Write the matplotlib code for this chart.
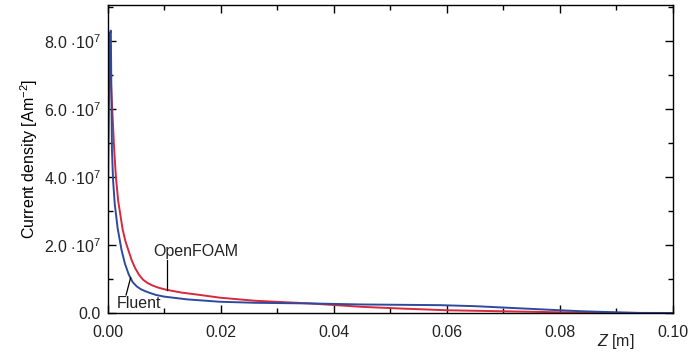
import numpy as np
import matplotlib.pyplot as plt
from matplotlib.ticker import MultipleLocator

# Fluent (blue), values in 1e7 A/m^2
z_fluent = [0, 0.0003, 0.0005, 0.0007, 0.0009, 0.0012, 0.0017, 0.0024, 0.0030, 0.0037,
            0.0044, 0.0051, 0.0058, 0.0066, 0.0074, 0.0085, 0.010, 0.012, 0.014, 0.0165,
            0.0198, 0.026, 0.0358, 0.045, 0.0588, 0.065, 0.070, 0.075, 0.080, 0.084,
            0.088, 0.094, 0.100]
j_fluent = [3.5, 8.2, 8.3, 4.8, 3.9, 3.2, 2.5, 1.85, 1.45, 1.12,
            0.90, 0.78, 0.70, 0.64, 0.59, 0.53, 0.48, 0.44, 0.40, 0.37,
            0.33, 0.30, 0.28, 0.25, 0.23, 0.20, 0.16, 0.12, 0.08, 0.05,
            0.03, 0.0, 0.0]

# OpenFOAM (red)
z_openfoam = [0, 0.0002, 0.0006, 0.0011, 0.0014, 0.0018, 0.0026, 0.0031, 0.0036, 0.0042,
              0.0048, 0.0055, 0.0062, 0.0070, 0.008, 0.009, 0.0104, 0.013, 0.0163, 0.0198,
              0.026, 0.0358, 0.045, 0.052, 0.060, 0.070, 0.080, 0.090, 0.100]
j_openfoam = [7.0, 8.0, 6.5, 4.8, 4.0, 3.3, 2.45, 2.1, 1.85, 1.55,
              1.32, 1.12, 0.98, 0.88, 0.80, 0.74, 0.68, 0.60, 0.53, 0.45,
              0.36, 0.28, 0.18, 0.13, 0.08, 0.05, 0.02, 0.005, 0.0]

x_ticks = [0.00, 0.02, 0.04, 0.06, 0.08, 0.10]
x_labels = ["0.00", "0.02", "0.04", "0.06", "0.08", "0.10"]
y_ticks = [0, 2e7, 4e7, 6e7, 8e7]
y_labels = ["0.0", r"2.0 $\cdot$10$^7$", r"4.0 $\cdot$10$^7$", r"6.0 $\cdot$10$^7$", r"8.0 $\cdot$10$^7$"]

plt.rcParams["font.family"] = ["Liberation Sans", "DejaVu Sans"]
plt.rcParams["mathtext.fontset"] = "custom"
plt.rcParams["mathtext.rm"] = "Liberation Sans"
plt.rcParams["mathtext.it"] = "Liberation Sans:italic"
plt.rcParams["text.color"] = "#222222"
plt.rcParams["xtick.labelcolor"] = "#222222"
plt.rcParams["ytick.labelcolor"] = "#222222"

fig = plt.figure(figsize=(6.94, 3.61), dpi=100)
ax = fig.add_axes([0.1556, 0.133, 0.8141, 0.853])

ax.plot(z_openfoam, np.array(j_openfoam) * 1e7, color="#d9283b", lw=1.4)
ax.plot(z_fluent, np.array(j_fluent) * 1e7, color="#2d4a9e", lw=1.4)

ax.set_xlim(0, 0.1)
ax.set_ylim(0, 9.05e7)
ax.set_xticks(x_ticks)
ax.set_xticklabels(x_labels)
ax.set_yticks(y_ticks)
ax.set_yticklabels(y_labels)
ax.xaxis.set_minor_locator(MultipleLocator(0.01))
ax.yaxis.set_minor_locator(MultipleLocator(1e7))
ax.tick_params(which="both", direction="in", top=True, right=True, labelsize=11.5, width=1)
ax.tick_params(which="major", length=6)
ax.tick_params(axis="x", which="major", pad=9)
ax.tick_params(axis="y", which="major", pad=5)
ax.tick_params(which="minor", length=3.5)
for s in ax.spines.values():
    s.set_linewidth(1)

ax.set_ylabel(r"Current density [Am$^{-2}$]", fontsize=11.5, labelpad=3)
ax.text(0.0899, -0.85e7, r"$\it{Z}$ [m]", fontsize=11.5, ha="center", va="center")

# leader labels
ax.text(0.0156, 1.82e7, "OpenFOAM", fontsize=11.5, ha="center", va="center")
ax.plot([0.0104, 0.0104], [1.57e7, 0.68e7], color="black", lw=0.9)
ax.text(0.0055, 0.29e7, "Fluent", fontsize=11.5, ha="center", va="center")
ax.plot([0.0032, 0.0040], [0.53e7, 1.03e7], color="black", lw=0.9)

plt.savefig("out.png", dpi=100)
